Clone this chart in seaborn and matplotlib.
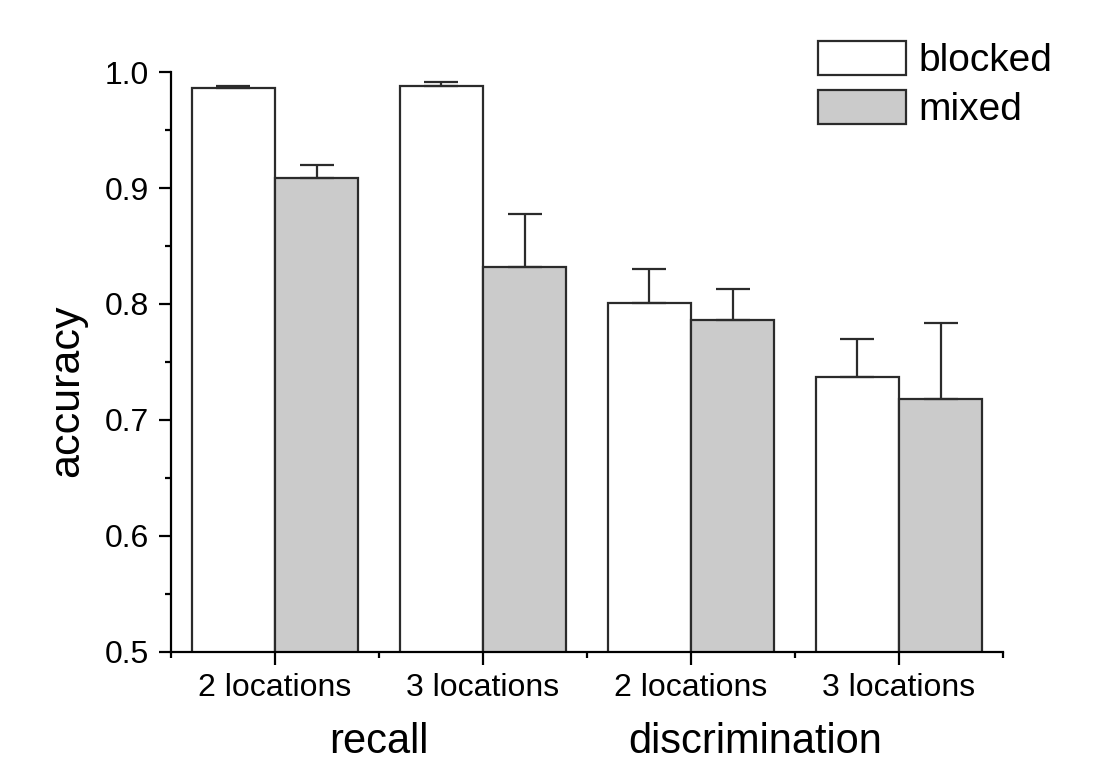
import numpy as np
import pandas as pd
import matplotlib
matplotlib.use("Agg")
import matplotlib.pyplot as plt
import matplotlib.transforms as mtransforms
from matplotlib.ticker import MultipleLocator, FixedLocator
import seaborn as sns

# Accuracy by task, set size and presentation condition
tasks = ["recall", "recall", "discrimination", "discrimination"]
locations = ["2 locations", "3 locations", "2 locations", "3 locations"]
conditions = ["blocked", "mixed"]
blocked_mean = [0.986, 0.988, 0.801, 0.737]
blocked_err = [0.002, 0.003, 0.029, 0.033]
mixed_mean = [0.909, 0.832, 0.786, 0.718]
mixed_err = [0.011, 0.046, 0.027, 0.066]

keys = [f"{t} {l}" for t, l in zip(tasks, locations)]
df = pd.DataFrame({
    "cell": keys * 2,
    "condition": ["blocked"] * 4 + ["mixed"] * 4,
    "accuracy": blocked_mean + mixed_mean,
    "err": blocked_err + mixed_err,
})

sns.set_theme(style="ticks")
plt.rcParams["font.family"] = ["Liberation Sans", "DejaVu Sans"]
plt.rcParams.update({
    "text.color": "black",
    "axes.labelcolor": "black",
    "xtick.color": "black",
    "ytick.color": "black",
})

fig = plt.figure(figsize=(11.09, 7.62), dpi=100)
ax = fig.add_axes([0.1542, 0.1444, 0.9044 - 0.1542, 0.9055 - 0.1444])

edge = "#2b2b2b"
sns.barplot(data=df, x="cell", y="accuracy", hue="condition", order=keys,
            hue_order=conditions, palette=["white", "#cbcbcb"],
            edgecolor=edge, linewidth=1.6, errorbar=None, width=0.8, ax=ax)

# upper-only error bars at the bar centres
for cont, cond in zip(ax.containers, conditions):
    sub = df[df["condition"] == cond]
    xs = [p.get_x() + p.get_width() / 2 for p in cont.patches]
    ys = sub["accuracy"].to_numpy()
    es = sub["err"].to_numpy()
    ax.errorbar(xs, ys, yerr=[np.zeros_like(es), es], fmt="none",
                ecolor=edge, elinewidth=1.6, capsize=12.5, capthick=1.6,
                zorder=1)

ax.set_ylim(0.5, 1.0)
ax.set_xlim(-0.5, 3.5)
ax.yaxis.set_major_locator(MultipleLocator(0.1))
ax.yaxis.set_minor_locator(MultipleLocator(0.05))
ax.xaxis.set_minor_locator(FixedLocator([-0.5, 0.5, 1.5, 2.5, 3.5]))
ax.set_xticks(range(4))
ax.set_xticklabels(locations)
ax.set_yticks([0.5, 0.6, 0.7, 0.8, 0.9, 1.0])
ax.set_yticklabels([f"{v:.1f}" for v in [0.5, 0.6, 0.7, 0.8, 0.9, 1.0]])

ax.tick_params(axis="both", which="major", length=9, width=1.6,
               labelsize=23, pad=7, direction="out")
ax.tick_params(axis="both", which="minor", length=4.5, width=1.6,
               direction="out")
ax.tick_params(axis="x", which="major", pad=6)

sns.despine(ax=ax, top=True, right=True)
for s in ("left", "bottom"):
    ax.spines[s].set_linewidth(1.6)
    ax.spines[s].set_color("black")

ax.set_xlabel("")
ax.set_ylabel("accuracy", fontsize=31)
ax.yaxis.set_label_coords(-0.101, 0.45)

# task labels beneath the location ticks
trans = mtransforms.blended_transform_factory(ax.transData, fig.transFigure)
ax.text(0.5, 0.026, "recall", transform=trans, ha="center", va="center",
        fontsize=30)
ax.text(2.31, 0.026, "discrimination", transform=trans, ha="center",
        va="center", fontsize=30)

handles, labels = ax.get_legend_handles_labels()
ax.legend(handles, labels, loc="upper left",
          bbox_to_anchor=(818 / 1109, 1 - 41 / 762),
          bbox_transform=fig.transFigure, frameon=False, fontsize=28,
          handlelength=2.26, handleheight=0.98, handletextpad=0.33,
          labelspacing=0.26, borderpad=0, borderaxespad=0)

fig.savefig("out.png", dpi=100)
